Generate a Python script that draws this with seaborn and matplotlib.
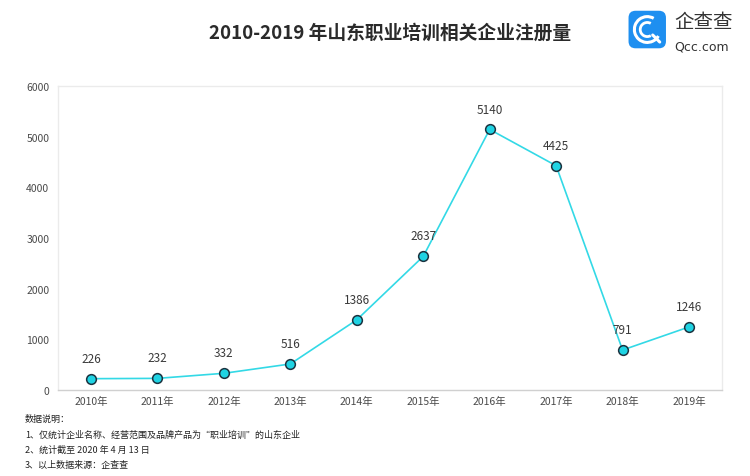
import numpy as np
import pandas as pd
import seaborn as sns
import matplotlib.pyplot as plt
from matplotlib.patches import FancyBboxPatch, Arc

years = ["2010年", "2011年", "2012年", "2013年", "2014年",
         "2015年", "2016年", "2017年", "2018年", "2019年"]
counts = [226, 232, 332, 516, 1386, 2637, 5140, 4425, 791, 1246]
y_ticks = [0, 1000, 2000, 3000, 4000, 5000, 6000]

title = "2010-2019 年山东职业培训相关企业注册量"
notes = [
    "数据说明：",
    "1、仅统计企业名称、经营范围及品牌产品为“职业培训”的山东企业",
    "2、统计截至 2020 年 4 月 13 日",
    "3、以上数据来源：企查查",
]

sns.set_style("white")
plt.rcParams['font.family'] = ['Noto Sans CJK SC', 'DejaVu Sans']

df = pd.DataFrame({"year": years, "count": counts})
df["pos"] = np.arange(len(df))

fig = plt.figure(figsize=(7.5, 4.77), dpi=100)
ax = fig.add_axes([0.077, 0.180, 0.886, 0.638])

line_c = "#33d9e6"
sns.lineplot(data=df, x="pos", y="count", ax=ax, color=line_c, linewidth=1.2,
             marker="o", markersize=7, markerfacecolor="#1fd3e3",
             markeredgecolor="#1b3340", markeredgewidth=1.1)

for x, v in zip(df["pos"], df["count"]):
    ax.annotate(str(v), (x, v), xytext=(0, 10), textcoords="offset points",
                ha="center", va="bottom", fontsize=8.5, color="#3a3a3a")

ax.set_xlim(-0.5, len(years) - 0.5)
ax.set_ylim(0, 6000)
ax.set_xticks(df["pos"])
ax.set_xticklabels(years)
ax.set_yticks(y_ticks)
ax.set_xlabel("")
ax.set_ylabel("")
ax.tick_params(axis="both", length=0, labelsize=7.5, colors="#4a4a4a")
ax.tick_params(axis="y", pad=6)
ax.tick_params(axis="x", pad=4)
for s in ax.spines.values():
    s.set_color("#ebebeb")
    s.set_linewidth(1.0)
ax.spines["bottom"].set_color("#d0d0d0")

fig.text(0.52, 0.93, title, ha="center", va="center", fontsize=13.5,
         fontweight="bold", color="#2a2a2a")

# notes under the chart
ys = [0.115, 0.083, 0.051, 0.019]
for t, yy in zip(notes, ys):
    fig.text(0.033, yy + 0.005, t, ha="left", va="center", fontsize=6.5, color="#222222")

# logo
lax = fig.add_axes([0.837, 0.895, 0.052, 0.082])
lax.set_xlim(0, 1)
lax.set_ylim(0, 1)
lax.axis("off")
lax.add_patch(FancyBboxPatch((0.02, 0.02), 0.96, 0.96,
                             boxstyle="round,pad=0,rounding_size=0.18",
                             fc="#1e8ff0", ec="none"))
lax.add_patch(Arc((0.5, 0.5), 0.66, 0.66, theta1=60, theta2=330,
                  color="white", lw=2.2))
lax.add_patch(Arc((0.5, 0.5), 0.36, 0.36, theta1=60, theta2=300,
                  color="white", lw=2.0))
lax.plot([0.64, 0.82], [0.36, 0.18], color="white", lw=2.2, solid_capstyle="round")
fig.text(0.899, 0.953, "企查查", ha="left", va="center", fontsize=14, color="#333333")
fig.text(0.899, 0.902, "Qcc.com", ha="left", va="center", fontsize=9,
         color="#333333", family="DejaVu Sans")

fig.savefig("out.png", dpi=100)
